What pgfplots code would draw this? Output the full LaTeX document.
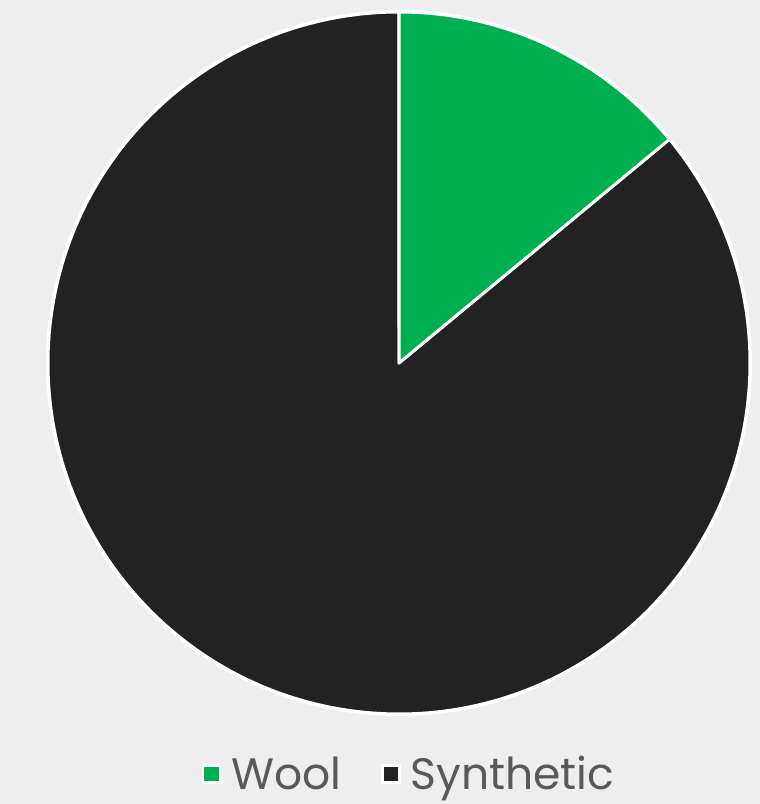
\documentclass[border=0pt]{standalone}
\usepackage{pgfplots}
\pgfplotsset{compat=1.18}
\usepackage{pgfplotstable}
\usepackage{fontspec}
\setmainfont{Poppins}
\definecolor{bg}{HTML}{EEEEEE}
\definecolor{woolgreen}{HTML}{00AF50}
\definecolor{synblack}{HTML}{222222}
\definecolor{txtgray}{HTML}{595959}
\pgfplotstableread{
label value
Wool 14
Synthetic 86
}\piedata
\begin{document}
\begin{tikzpicture}
\pgfplotstablegetelem{0}{value}\of\piedata \let\woolval\pgfplotsretval
\pgfplotstablegetelem{1}{value}\of\piedata \let\synval\pgfplotsretval
\pgfmathsetmacro{\total}{\woolval+\synval}
\pgfmathsetmacro{\woolend}{90-(\woolval/\total)*360}
\pgfmathsetmacro{\synend}{\woolend-(\synval/\total)*360}
\begin{axis}[
  hide axis, scale only axis,
  width=760pt, height=804pt,
  xmin=0, xmax=760, ymin=0, ymax=804,
  clip=false,
  legend columns=2,
  legend style={at={(axis cs:409,30)}, anchor=center, draw=none, fill=none,
    font=\fontsize{44}{50}\selectfont, text=txtgray,
    /tikz/every even column/.append style={column sep=38pt}},
  legend image code/.code={\draw[#1, draw=white, line width=2.5pt] (0pt,-8.5pt) rectangle (17pt,8.5pt);
    \path[draw=none, fill=none] (0pt,-8.5pt) rectangle (26pt,8.5pt);},
]
\fill[bg] (axis cs:0,0) rectangle (axis cs:760,804);
\fill[white] (axis cs:399,441) circle[radius=353pt];
\filldraw[synblack, draw=white, line width=3pt, line join=round]
  (axis cs:399,441) -- ++(\woolend:351pt) arc[start angle=\woolend, end angle=\synend, radius=351pt] -- cycle;
\filldraw[woolgreen, draw=white, line width=3pt, line join=round]
  (axis cs:399,441) -- ++(90:351pt) arc[start angle=90, end angle=\woolend, radius=351pt] -- cycle;
\addlegendimage{fill=woolgreen}
\addlegendentry{Wool}
\addlegendimage{fill=synblack}
\addlegendentry{Synthetic}
\end{axis}
\pgfresetboundingbox
\path (0,0) rectangle (760pt,804pt);
\end{tikzpicture}
\end{document}
